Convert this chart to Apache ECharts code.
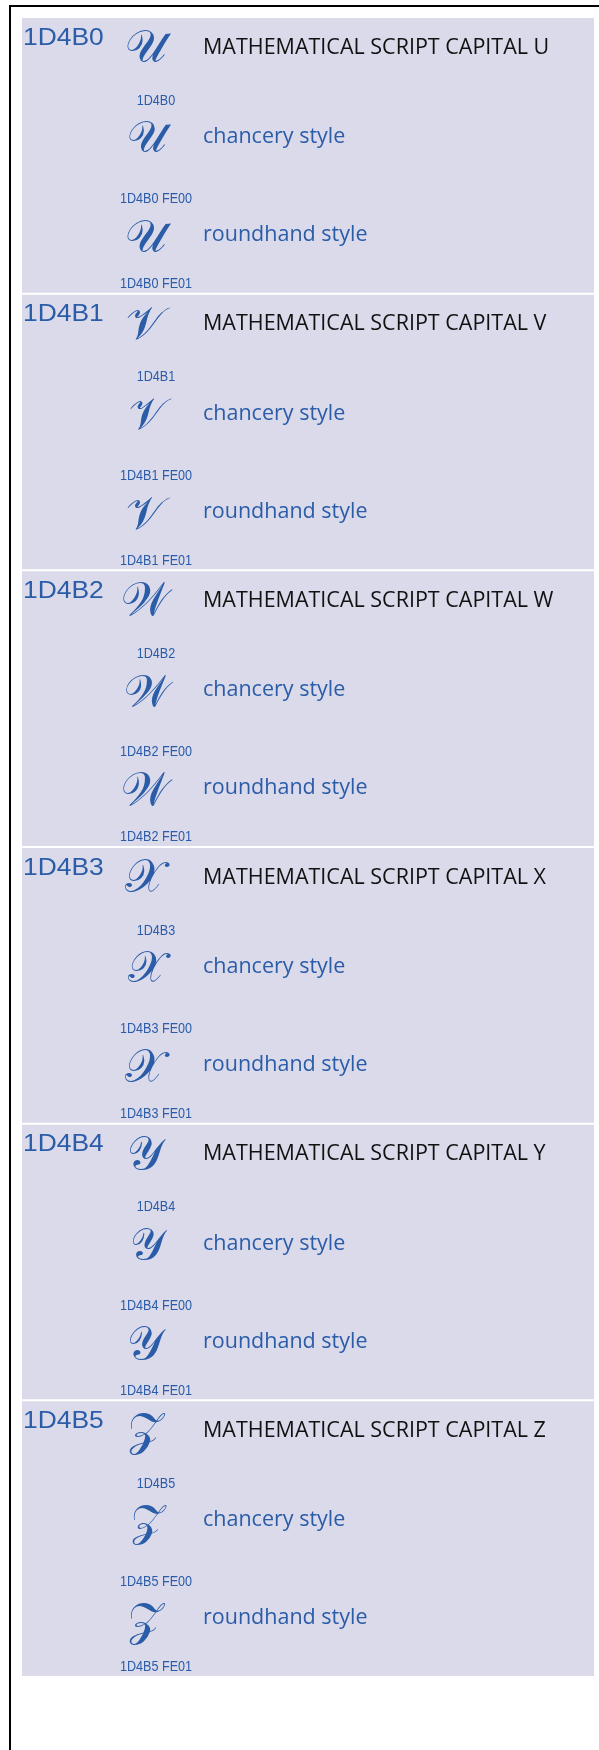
<!DOCTYPE html>
<html>
<head>
<meta charset="utf-8">
<script src="https://cdn.jsdelivr.net/npm/echarts@6/dist/echarts.min.js"></script>
<style>
html,body{margin:0;padding:0;background:#fff;}
#main{width:599px;height:1750px;}
</style>
</head>
<body>
<div id="main"></div>
<script>
// ---- data ----
const codes = ['1D4B0', '1D4B1', '1D4B2', '1D4B3', '1D4B4', '1D4B5'];
const names = [
  'MATHEMATICAL SCRIPT CAPITAL U',
  'MATHEMATICAL SCRIPT CAPITAL V',
  'MATHEMATICAL SCRIPT CAPITAL W',
  'MATHEMATICAL SCRIPT CAPITAL X',
  'MATHEMATICAL SCRIPT CAPITAL Y',
  'MATHEMATICAL SCRIPT CAPITAL Z'
];
const glyphs = ['\u{1D4B0}', '\u{1D4B1}', '\u{1D4B2}', '\u{1D4B3}', '\u{1D4B4}', '\u{1D4B5}'];
const variantLabels = ['chancery style', 'roundhand style'];
const selectors = ['FE00', 'FE01'];

// ---- styles ----
const BLUE = '#2a5ca8';
const PANEL = '#dbdaeb';
const CODE_FONT = "'Liberation Sans', Arial, sans-serif";
const TEXT_FONT = "'Open Sans', 'Noto Sans', sans-serif";
const GLYPH_FONT = "'DejaVu Serif', 'DejaVu Sans', 'Noto Sans', serif";

const chart = echarts.init(document.getElementById('main'), null, {renderer: 'canvas'});

function txt(text, x, y, size, family, color, align, sx) {
  const el = {
    type: 'text',
    style: {
      text: text, x: 0, y: 0,
      fontSize: size, fontFamily: family,
      fill: color, align: align || 'left', verticalAlign: 'middle'
    },
    x: x, y: y
  };
  if (sx) { el.scaleX = sx; }
  return el;
}

function renderItem(params, api) {
  const i = api.value(0);
  const p0 = api.coord([0, i]);
  const p1 = api.coord([1, i + 1]);
  const L = p0[0], T = p0[1];
  const W = p1[0] - p0[0], H = p1[1] - p0[1] - 2;
  const gx = L + 123;   // glyph column centre
  const cx = L + 134;   // small code centre
  const tx = L + 181;   // text column
  const code = codes[i];
  const children = [
    {type: 'rect', shape: {x: L, y: T, width: W, height: H}, style: {fill: PANEL}},
    txt(code, L + 1, T + 20, 24, CODE_FONT, BLUE, 'left', 1.1),
    txt(glyphs[i], gx, T + 32, 46, GLYPH_FONT, BLUE, 'center'),
    txt(names[i], tx, T + 29.5, 21.5, TEXT_FONT, '#111111'),
    txt(code, cx, T + 82.5, 15, CODE_FONT, BLUE, 'center', 0.84),
    txt(glyphs[i] + '\uFE00', gx + 2, T + 123, 44, GLYPH_FONT, BLUE, 'center'),
    txt(variantLabels[0], tx, T + 119, 21.5, TEXT_FONT, BLUE),
    txt(code + ' ' + selectors[0], cx, T + 181, 15, CODE_FONT, BLUE, 'center', 0.84),
    txt(glyphs[i] + '\uFE01', gx, T + 222, 46, GLYPH_FONT, BLUE, 'center'),
    txt(variantLabels[1], tx, T + 217, 21.5, TEXT_FONT, BLUE),
    txt(code + ' ' + selectors[1], cx, T + 266, 15, CODE_FONT, BLUE, 'center', 0.84)
  ];
  return {type: 'group', children: children};
}

chart.setOption({
  animation: false,
  backgroundColor: '#ffffff',
  grid: {left: 22, right: 5, top: 18, height: 1660},
  xAxis: {type: 'value', min: 0, max: 1, show: false},
  yAxis: {type: 'value', min: 0, max: codes.length, inverse: true, show: false},
  graphic: [
    {type: 'rect', shape: {x: 10, y: 6, width: 700, height: 2000},
     style: {fill: 'none', stroke: '#000', lineWidth: 2}, z: 100}
  ],
  series: [{
    type: 'custom',
    clip: false,
    data: codes.map((c, i) => [i]),
    encode: {y: 0},
    renderItem: renderItem
  }]
});
</script>
</body>
</html>
